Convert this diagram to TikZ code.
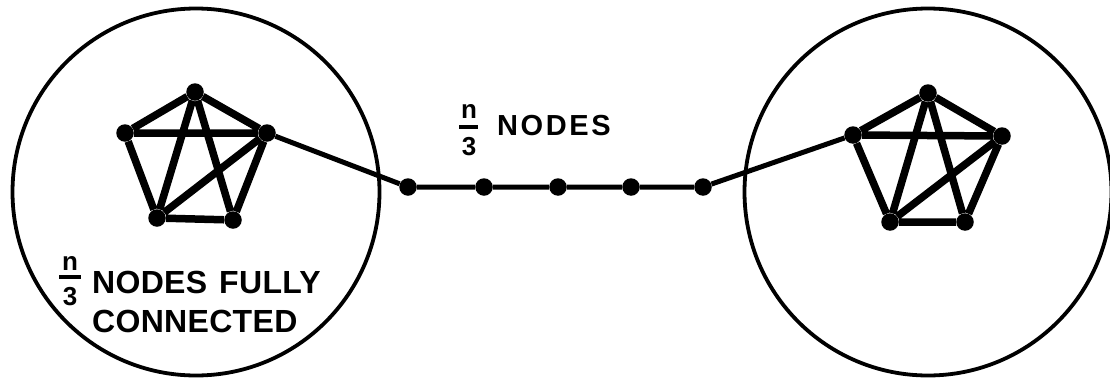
\documentclass[tikz,border=0pt]{standalone}
\usepackage{fontspec}
\setmainfont{Liberation Sans}
\newfontfamily\lblup{Liberation Sans Bold}[LetterSpace=9]
\newfontfamily\lbllow{Liberation Sans Bold}[LetterSpace=1]
\newfontfamily\lblfrac{Liberation Sans Bold}
\begin{document}
\begin{tikzpicture}[x=1pt,y=-1pt,
  dot/.style={circle,fill=black,inner sep=0pt,minimum size=17.5pt},
  edge/.style={line width=7.5pt},
  chain/.style={line width=5pt},
  big/.style={circle,draw=black,line width=3.8pt,minimum size=367pt,inner sep=0pt},
  upper/.style={anchor=base west,inner sep=0pt,font=\lblup\fontsize{29}{32}\selectfont},
  lower/.style={anchor=base west,inner sep=0pt,font=\lbllow\fontsize{32}{35}\selectfont},
  frac/.style={anchor=base,inner sep=0pt,font=\lblfrac\fontsize{26}{28}\selectfont},
  fbar/.style={line width=3.8pt}]
\useasboundingbox (0,0) rectangle (1110,383);
% big circles
\node[big] (CL) at (196,192) {};
\node[big] (CR) at (928,192) {};
% left pentagon
\node[dot] (LT) at (195,92) {};
\node[dot] (LL) at (125,133) {};
\node[dot] (LR) at (267,133) {};
\node[dot] (LBL) at (157,218) {};
\node[dot] (LBR) at (233,220) {};
\draw[edge] (LT)--(LL) (LT)--(LR) (LL)--(LR) (LL)--(LBL) (LR)--(LBR) (LBL)--(LBR)
  (LT)--(LBL) (LT)--(LBR) (LR)--(LBL);
% right pentagon
\node[dot] (RT) at (928,93) {};
\node[dot] (RL) at (853,135) {};
\node[dot] (RR) at (1002,136) {};
\node[dot] (RBL) at (890,222) {};
\node[dot] (RBR) at (965,222) {};
\draw[edge] (RT)--(RL) (RT)--(RR) (RL)--(RR) (RL)--(RBL) (RR)--(RBR) (RBL)--(RBR)
  (RT)--(RBL) (RT)--(RBR) (RR)--(RBL);
% chain
\node[dot] (C1) at (408,187) {};
\node[dot] (C2) at (484,187) {};
\node[dot] (C3) at (558,187) {};
\node[dot] (C4) at (631,187) {};
\node[dot] (C5) at (703,187) {};
\draw[chain] (LR)--(C1)--(C2)--(C3)--(C4)--(C5)--(RL);
% upper label
\node[frac] (n1) at (469,118) {n};
\node[frac] (d1) at (469,155) {3};
\coordinate (b1a) at (459,127);
\coordinate (b1b) at (478,127);
\draw[fbar] (b1a)--(b1b);
\node[upper] (t1) at (497,135) {NODES};
% lower label
\node[frac] (n2) at (70,270) {n};
\node[frac] (d2) at (70,305) {3};
\coordinate (b2a) at (59,277);
\coordinate (b2b) at (81,277);
\draw[fbar] (b2a)--(b2b);
\node[lower] (t2) at (92,293) {NODES\hspace{12pt}FULLY};
\node[lower] (t3) at (92,332) {CONNECTED};
\end{tikzpicture}
\end{document}
